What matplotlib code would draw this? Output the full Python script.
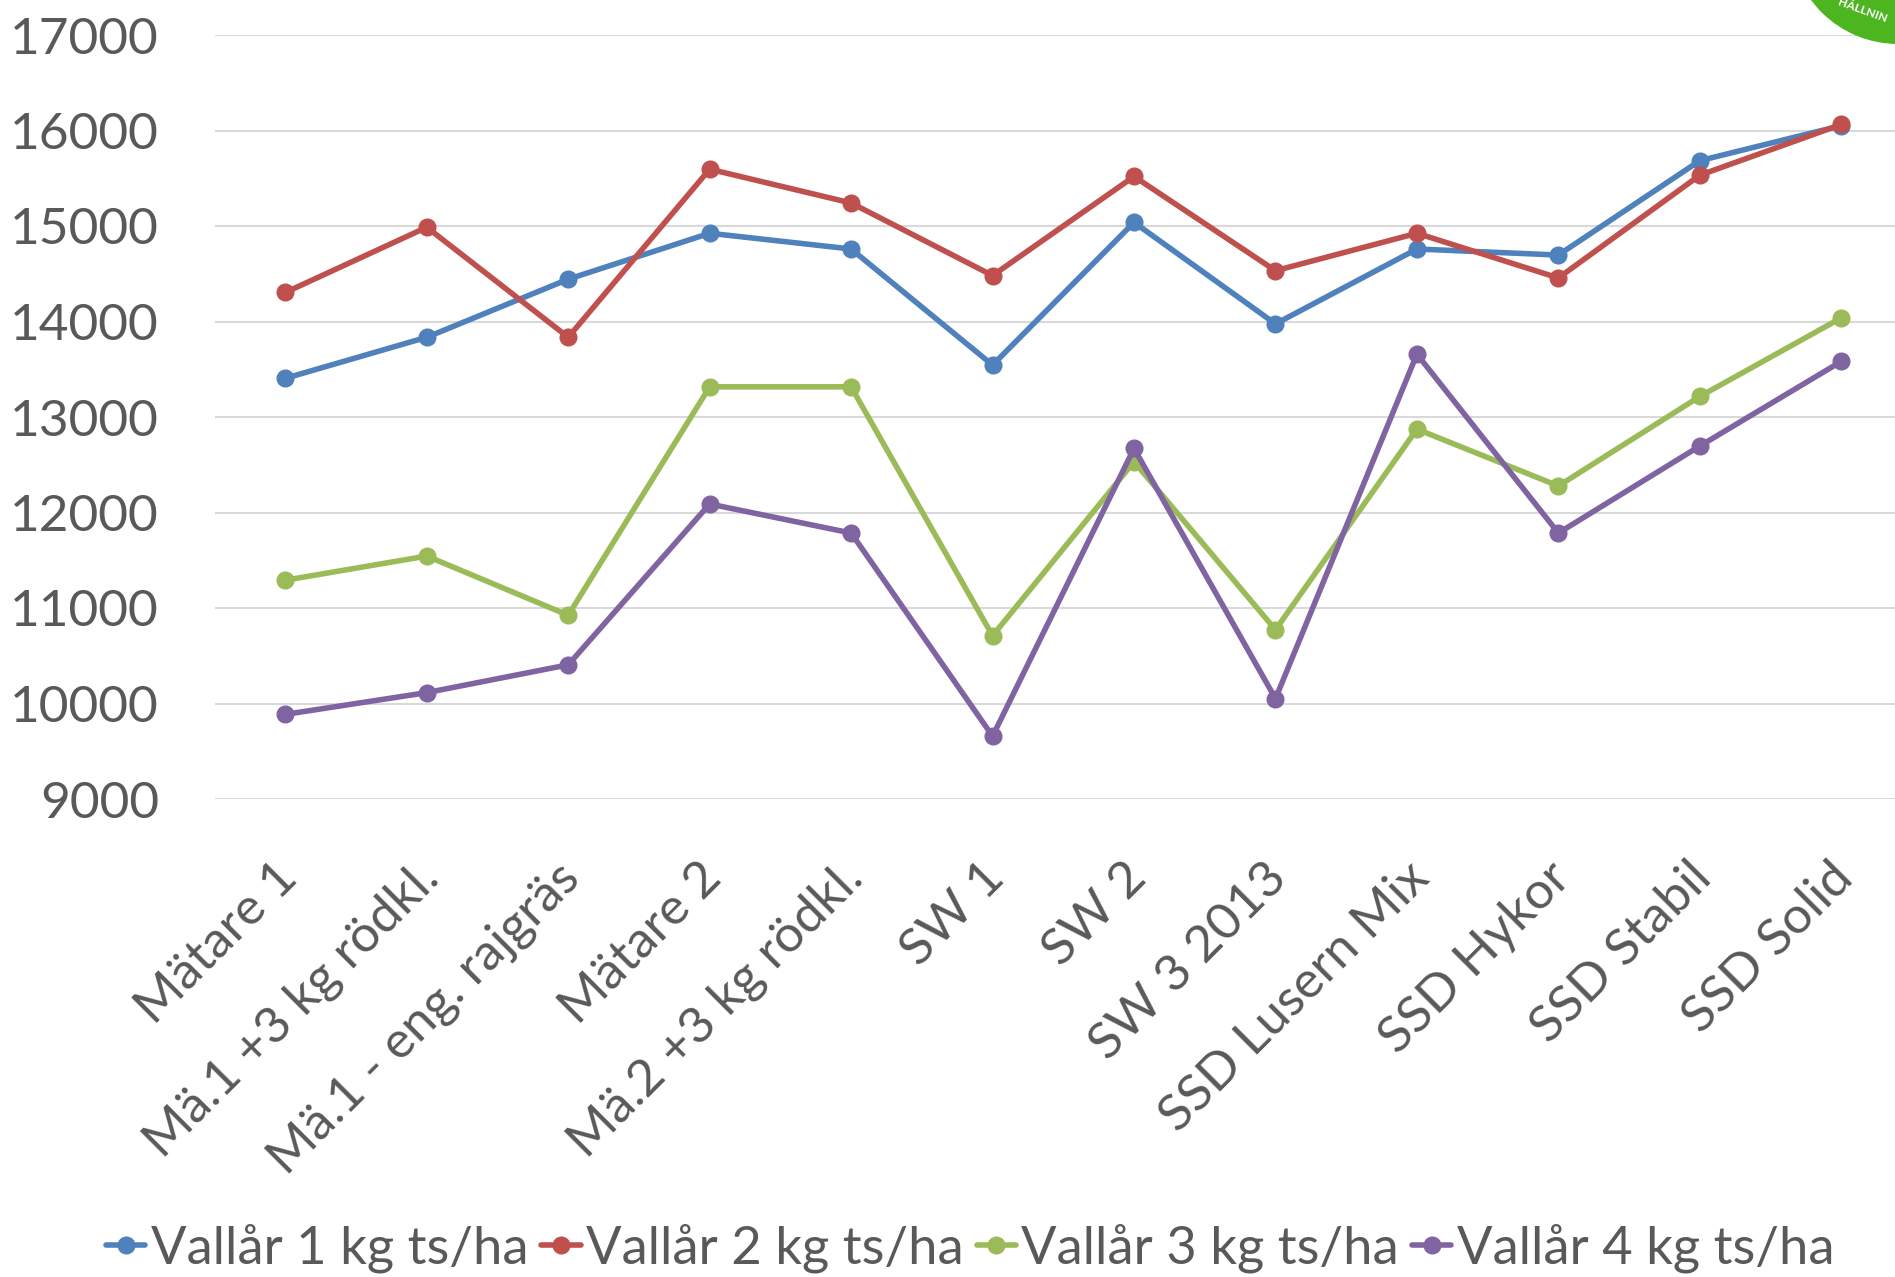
import matplotlib
matplotlib.use("Agg")
import matplotlib.pyplot as plt
from matplotlib.patches import Ellipse
from matplotlib.transforms import ScaledTranslation

categories = ["Mätare 1", "Mä.1 +3 kg rödkl.", "Mä.1 - eng. rajgräs", "Mätare 2",
              "Mä.2 +3 kg rödkl.", "SW 1", "SW 2", "SW 3 2013", "SSD Lusern Mix",
              "SSD Hykor", "SSD Stabil", "SSD Solid"]
vallar1 = [13405, 13835, 14443, 14924, 14759, 13544, 15038, 13975, 14759, 14696, 15684, 16051]
vallar2 = [14304, 14987, 13835, 15595, 15241, 14481, 15519, 14532, 14924, 14456, 15532, 16063]
vallar3 = [11291, 11544, 10924, 13316, 13316, 10709, 12532, 10772, 12873, 12278, 13215, 14038]
vallar4 = [9886, 10114, 10405, 12089, 11785, 9658, 12671, 10051, 13658, 11785, 12696, 13582]
series_names = ["Vallår 1 kg ts/ha", "Vallår 2 kg ts/ha", "Vallår 3 kg ts/ha", "Vallår 4 kg ts/ha"]
series = [vallar1, vallar2, vallar3, vallar4]
colors = ["#4F81BD", "#C0504D", "#9BBB59", "#8064A2"]
yticks = [9000, 10000, 11000, 12000, 13000, 14000, 15000, 16000, 17000]

FONT = "Lato"
TXT = "#595959"
FS = 37

W, H = 1895, 1277
fig = plt.figure(figsize=(W / 100, H / 100), dpi=100)
ax = fig.add_axes([214.6 / W, 1 - 799 / H, (1912 - 214.6) / W, (799 - 35) / H])

# logo fragment top-right
r = 108
logo = Ellipse((1898 / W, 1 + 64 / H), 2 * r / W, 2 * r / H, transform=fig.transFigure,
               facecolor="#4DB520", edgecolor="none", zorder=0)
fig.patches.append(logo)
fig.text(1862 / W, 1 - 11 / H, "HÅLLNIN", color="white", fontsize=8.5, rotation=-20,
         ha="center", va="center", family=FONT, fontweight="bold")

x = list(range(len(categories)))
for vals, name, c in zip(series, series_names, colors):
    ax.plot(x, vals, color=c, lw=4.0, marker="o", ms=12, label=name, zorder=3,
            solid_capstyle="round", solid_joinstyle="round")

ax.set_xlim(-0.5, len(categories) - 0.5)
ax.set_ylim(9000, 17000)
ax.set_yticks(yticks)
ax.set_yticklabels([str(v) for v in yticks], fontsize=FS, color=TXT, family=FONT)
ax.set_xticks(x)
ax.set_xticklabels(categories, rotation=45, ha="right", va="top", rotation_mode="anchor",
                   fontsize=FS, color=TXT, family=FONT)
ax.tick_params(axis="y", length=0, pad=40)
ax.tick_params(axis="x", length=0, pad=40)
off = ScaledTranslation(-12 / 100, 0, fig.dpi_scale_trans)
for lbl in ax.get_xticklabels():
    lbl.set_transform(lbl.get_transform() + off)

ax.grid(axis="y", color="#D9D9D9", lw=1.5, zorder=1)
ax.set_axisbelow(True)
for s in ax.spines.values():
    s.set_visible(False)
ax.patch.set_alpha(0)

leg = fig.legend(loc="center", bbox_to_anchor=(970 / W, 1 - 1248 / H), ncol=4,
                 frameon=False, handlelength=0.75, handletextpad=0.1, columnspacing=0.25,
                 prop={"family": FONT, "size": 37.8}, borderaxespad=0, borderpad=0)
for t in leg.get_texts():
    t.set_color(TXT)

fig.savefig("out.png", dpi=100)
